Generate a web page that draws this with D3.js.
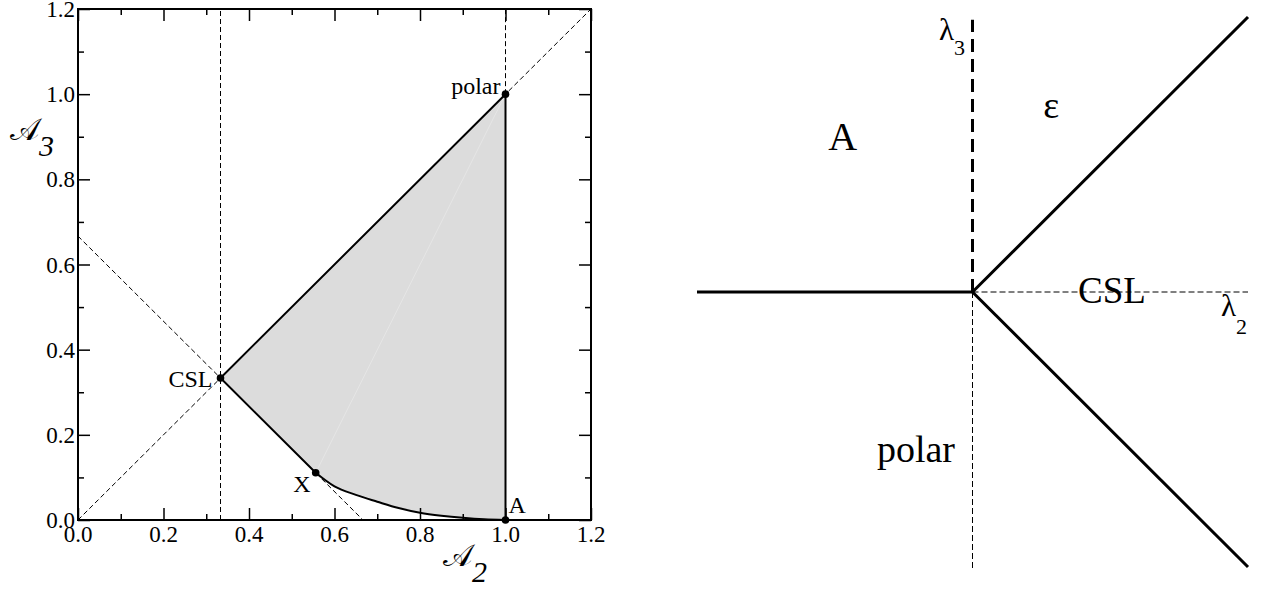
<!DOCTYPE html>
<html><head><meta charset="utf-8">
<script src="https://cdn.jsdelivr.net/npm/d3@7"></script>
<style>body{margin:0;background:#fff}svg{display:block}</style>
</head><body>
<svg id="c" width="1269" height="590" font-family="'Liberation Serif', 'DejaVu Serif', serif"></svg>
<script>
const FONT = "'Liberation Serif', 'DejaVu Serif', serif";
// ---------- Left panel data ----------
const tickValues = [0, 0.2, 0.4, 0.6, 0.8, 1.0, 1.2];
const tickLabels = ["0.0", "0.2", "0.4", "0.6", "0.8", "1.0", "1.2"];
const minorTicks = [0.1, 0.3, 0.5, 0.7, 0.9, 1.1];
const pointNames = ["CSL", "X", "polar", "A"];
const pointA2 = [1/3, 0.556, 1.0, 1.0];
const pointA3 = [1/3, 0.111, 1.0, 0.0];
// curved boundary from X to A
const curveA2 = [0.556, 0.6, 0.65, 0.7, 0.75, 0.8, 0.85, 0.9, 0.95, 1.0];
const curveA3 = [0.111, 0.079, 0.059, 0.043, 0.028, 0.017, 0.010, 0.005, 0.0015, 0.0];
// dashed guide lines
const guideStart = [[1/3, 0], [1.0, 1.0], [0, 0], [0, 2/3]];
const guideEnd   = [[1/3, 1.2], [1.0, 1.2], [1.2, 1.2], [2/3, 0]];

// ---------- Right panel data ----------
const solidStart = [[-1, 0], [0, 0], [0, 0]];
const solidEnd   = [[0, 0], [1, 1], [1, -1]];
const thickDashStart = [[0, 0]];
const thickDashEnd   = [[0, 0.99]];
const thinDashStart = [[0, 0], [0, 0]];
const thinDashEnd   = [[1, 0], [0, -1.01]];
const regionNames = ["A", "ε", "CSL", "polar"];
const regionX = [-0.524, 0.257, 0.383, -0.347];
const regionY = [0.516, 0.633, -0.04, -0.618];
const regionSize = [40, 38, 37, 38];

const svg = d3.select("#c");

// ===== LEFT =====
const x = d3.scaleLinear([0, 1.2], [78, 591]);
const y = d3.scaleLinear([0, 1.2], [520, 9]);
const L = svg.append("g");

const poly = [[pointA2[0], pointA3[0]], [pointA2[2], pointA3[2]], [pointA2[3], pointA3[3]]];
const curvePts = curveA2.map((d, i) => [d, curveA3[i]]);
const lineGen = d3.line().x(d => x(d[0])).y(d => y(d[1]));
const curveGen = d3.line().x(d => x(d[0])).y(d => y(d[1])).curve(d3.curveMonotoneX);
const curveD = curveGen(curvePts.slice().reverse());
L.append("path").attr("d", lineGen(poly) + "L" + curveD.slice(1) + "Z").attr("fill", "#dcdcdc").attr("stroke", "none");
L.append("line").attr("x1", x(pointA2[1])).attr("y1", y(pointA3[1])).attr("x2", x(pointA2[2])).attr("y2", y(pointA3[2]))
  .attr("stroke", "#e6e6e6").attr("stroke-width", 1);

guideStart.forEach((s, i) => {
  const e = guideEnd[i];
  L.append("line").attr("x1", x(s[0])).attr("y1", y(s[1])).attr("x2", x(e[0])).attr("y2", y(e[1]))
    .attr("stroke", "#000").attr("stroke-width", 1).attr("stroke-dasharray", "5,3");
});

const solidPath = [[pointA2[3], pointA3[3]], [pointA2[2], pointA3[2]], [pointA2[0], pointA3[0]], [pointA2[1], pointA3[1]]];
L.append("path").attr("d", lineGen(solidPath)).attr("fill", "none").attr("stroke", "#000").attr("stroke-width", 2).attr("stroke-linejoin", "round");
L.append("path").attr("d", curveGen(curvePts)).attr("fill", "none").attr("stroke", "#000").attr("stroke-width", 2);

const axStyle = g => {
  g.select(".domain").remove();
  g.selectAll(".tick line").attr("stroke", "#000").attr("stroke-width", 1.5);
  g.selectAll(".tick text").remove();
};
L.append("g").attr("transform", "translate(0,520)").call(d3.axisBottom(x).tickValues(tickValues).tickSize(-12)).call(axStyle);
L.append("g").attr("transform", "translate(0,520)").call(d3.axisBottom(x).tickValues(minorTicks).tickSize(-6)).call(axStyle);
L.append("g").attr("transform", "translate(0,9)").call(d3.axisTop(x).tickValues(tickValues).tickSize(-12)).call(axStyle);
L.append("g").attr("transform", "translate(0,9)").call(d3.axisTop(x).tickValues(minorTicks).tickSize(-6)).call(axStyle);
L.append("g").attr("transform", "translate(78,0)").call(d3.axisLeft(y).tickValues(tickValues).tickSize(-12)).call(axStyle);
L.append("g").attr("transform", "translate(78,0)").call(d3.axisLeft(y).tickValues(minorTicks).tickSize(-6)).call(axStyle);
L.append("g").attr("transform", "translate(591,0)").call(d3.axisRight(y).tickValues(tickValues).tickSize(-12)).call(axStyle);
L.append("g").attr("transform", "translate(591,0)").call(d3.axisRight(y).tickValues(minorTicks).tickSize(-6)).call(axStyle);
L.append("rect").attr("x", 78).attr("y", 9).attr("width", 591 - 78).attr("height", 520 - 9)
  .attr("fill", "none").attr("stroke", "#000").attr("stroke-width", 2);

const txt = (g, t, px, py, size, anchor) => g.append("text").attr("x", px).attr("y", py)
  .attr("text-anchor", anchor || "start").attr("font-size", size).attr("font-family", FONT).attr("fill", "#000").text(t);

tickValues.forEach((v, i) => {
  txt(L, tickLabels[i], x(v), 542, 23, "middle");
  txt(L, tickLabels[i], 75, y(v) + 8, 23, "end");
});

pointNames.forEach((n, i) => {
  L.append("circle").attr("cx", x(pointA2[i])).attr("cy", y(pointA3[i])).attr("r", 3.8).attr("fill", "#000");
});
txt(L, pointNames[0], x(pointA2[0]) - 8, y(pointA3[0]) + 9, 24, "end");
txt(L, pointNames[1], x(pointA2[1]) - 5, y(pointA3[1]) + 19, 24, "end");
txt(L, pointNames[2], x(pointA2[2]) - 5, y(pointA3[2]) + 0, 24, "end");
txt(L, pointNames[3], x(pointA2[3]) + 3, y(pointA3[3]) - 7, 24, "start");

const t3 = txt(L, "", 10, 140, 31);
t3.append("tspan").text("𝒜");
t3.append("tspan").attr("dy", 16).attr("font-size", 30).attr("font-style", "italic").text("3");
const t2 = txt(L, "", 443, 566, 31);
t2.append("tspan").text("𝒜");
t2.append("tspan").attr("dy", 16).attr("font-size", 30).attr("font-style", "italic").text("2");

// ===== RIGHT =====
const rx = d3.scaleLinear([-1, 1], [697, 1248]);
const ry = d3.scaleLinear([-1, 1], [567, 17]);
const R = svg.append("g");
thinDashStart.forEach((s, i) => {
  const e = thinDashEnd[i];
  R.append("line").attr("x1", rx(s[0])).attr("y1", ry(s[1])).attr("x2", rx(e[0])).attr("y2", ry(e[1]))
    .attr("stroke", "#000").attr("stroke-width", 1).attr("stroke-dasharray", "6,3");
});
thickDashStart.forEach((s, i) => {
  const e = thickDashEnd[i];
  R.append("line").attr("x1", rx(s[0])).attr("y1", ry(s[1])).attr("x2", rx(e[0])).attr("y2", ry(e[1]))
    .attr("stroke", "#000").attr("stroke-width", 3).attr("stroke-dasharray", "13,7");
});
solidStart.forEach((s, i) => {
  const e = solidEnd[i];
  R.append("line").attr("x1", rx(s[0])).attr("y1", ry(s[1])).attr("x2", rx(e[0])).attr("y2", ry(e[1]))
    .attr("stroke", "#000").attr("stroke-width", 3);
});
regionNames.forEach((n, i) => {
  txt(R, n, rx(regionX[i]), ry(regionY[i]), regionSize[i]);
});
const l3 = txt(R, "", 939, 40, 31);
l3.append("tspan").text("λ");
l3.append("tspan").attr("dy", 15).attr("font-size", 22).text("3");
const l2 = txt(R, "", 1221, 316, 31);
l2.append("tspan").text("λ");
l2.append("tspan").attr("dy", 18).attr("font-size", 22).text("2");
</script>
</body></html>
